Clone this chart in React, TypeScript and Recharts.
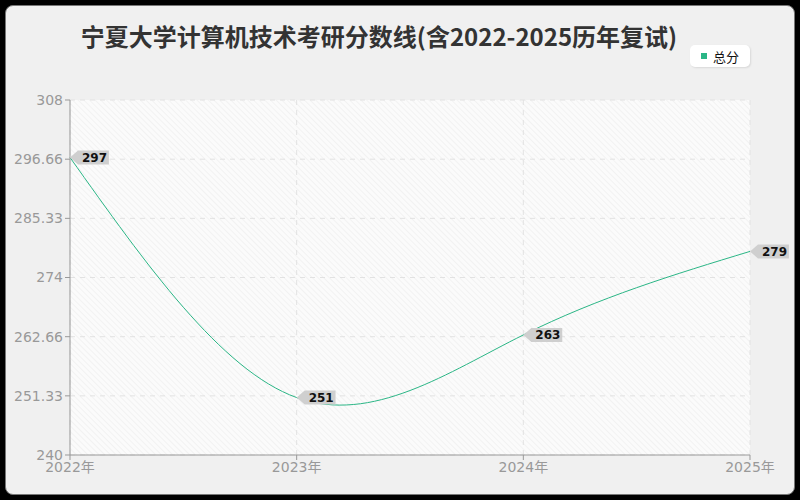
import { LineChart, Line, XAxis, YAxis, CartesianGrid, LabelList } from 'recharts';

const years = ['2022年', '2023年', '2024年', '2025年'];
const totalScores = [297, 251, 263, 279];
const yTicks = [240, 251.33, 262.66, 274, 285.33, 296.66, 308];

const LINE_COLOR = '#2bb686';
const FONT = '"DejaVu Sans", "Noto Sans CJK SC", sans-serif';
const TITLE_FONT = '"Noto Sans CJK SC", sans-serif';

const data = years.map((year, i) => ({ year, total: totalScores[i] }));

// grey tag with an arrow pointing back at the point
function TagLabel(props: any) {
  const { x, y, value } = props;
  if (x == null || y == null) return null;
  const text = String(value);
  const w = text.length * 8.3 + 6;
  const h = 14;
  const a = 8;
  const pts = [
    [x, y],
    [x + a, y - h / 2],
    [x + a + w, y - h / 2],
    [x + a + w, y + h / 2],
    [x + a, y + h / 2],
  ]
    .map((p) => p.join(','))
    .join(' ');
  return (
    <g>
      <polygon points={pts} fill="#cfcfcf" />
      <text
        x={x + a + 4}
        y={y + 4.5}
        fontSize={12}
        fontWeight="bold"
        fill="#111"
        fontFamily={FONT}
      >
        {text}
      </text>
    </g>
  );
}

export default function App() {
  return (
    <div
      style={{
        position: 'absolute',
        left: 0,
        top: 0,
        width: 800,
        height: 500,
        background: '#000',
        fontFamily: FONT,
      }}
    >
      <div
        style={{
          position: 'absolute',
          left: 5,
          top: 5,
          width: 788,
          height: 488,
          background: '#f0f0f0',
          border: '1px solid #777',
          borderRadius: 8,
        }}
      />
      <div
        style={{
          position: 'absolute',
          left: 0,
          top: 18,
          width: 758,
          textAlign: 'center',
          fontSize: 24,
          lineHeight: '36px',
          fontWeight: 'bold',
          fontFamily: TITLE_FONT,
          color: '#333',
        }}
      >
        宁夏大学计算机技术考研分数线(含2022-2025历年复试)
      </div>
      <div
        style={{
          position: 'absolute',
          left: 690,
          top: 45,
          width: 60,
          height: 22,
          background: '#fff',
          borderRadius: 5,
          boxShadow: '1px 1px 2px rgba(0,0,0,0.1)',
          display: 'flex',
          alignItems: 'center',
          justifyContent: 'center',
          gap: 6,
          fontSize: 13,
          fontFamily: TITLE_FONT,
          color: '#111',
        }}
      >
        <span style={{ width: 6, height: 6, background: LINE_COLOR, display: 'inline-block' }} />
        总分
      </div>
      <div style={{ position: 'absolute', left: 0, top: 0 }}>
        <LineChart
          width={800}
          height={500}
          data={data}
          margin={{ top: 100, right: 50, left: 10, bottom: 15 }}
        >
          <defs>
            <pattern id="hatch" width="4" height="4" patternUnits="userSpaceOnUse" patternTransform="rotate(-45)">
              <rect width="4" height="4" fill="#fbfbfb" />
              <line x1="0" y1="0" x2="0" y2="4" stroke="#ececec" strokeWidth="1.2" />
            </pattern>
          </defs>
          <CartesianGrid
            stroke="#e2e2e2"
            strokeDasharray="5 5"
            fill="url(#hatch)"
          />
          <XAxis
            dataKey="year"
            stroke="#999"
            tick={{ fill: '#999', fontSize: 14, fontFamily: FONT }}
            tickLine={{ stroke: '#999' }}
            tickSize={5}
            height={30}
          />
          <YAxis
            domain={[240, 308]}
            ticks={yTicks}
            interval={0}
            stroke="#999"
            tick={{ fill: '#999', fontSize: 14, fontFamily: FONT }}
            tickSize={5}
            width={60}
          />
          <Line
            type="natural"
            dataKey="total"
            stroke={LINE_COLOR}
            strokeWidth={1}
            dot={false}
            isAnimationActive={false}
          >
            <LabelList dataKey="total" content={TagLabel} />
          </Line>
        </LineChart>
      </div>
    </div>
  );
}
